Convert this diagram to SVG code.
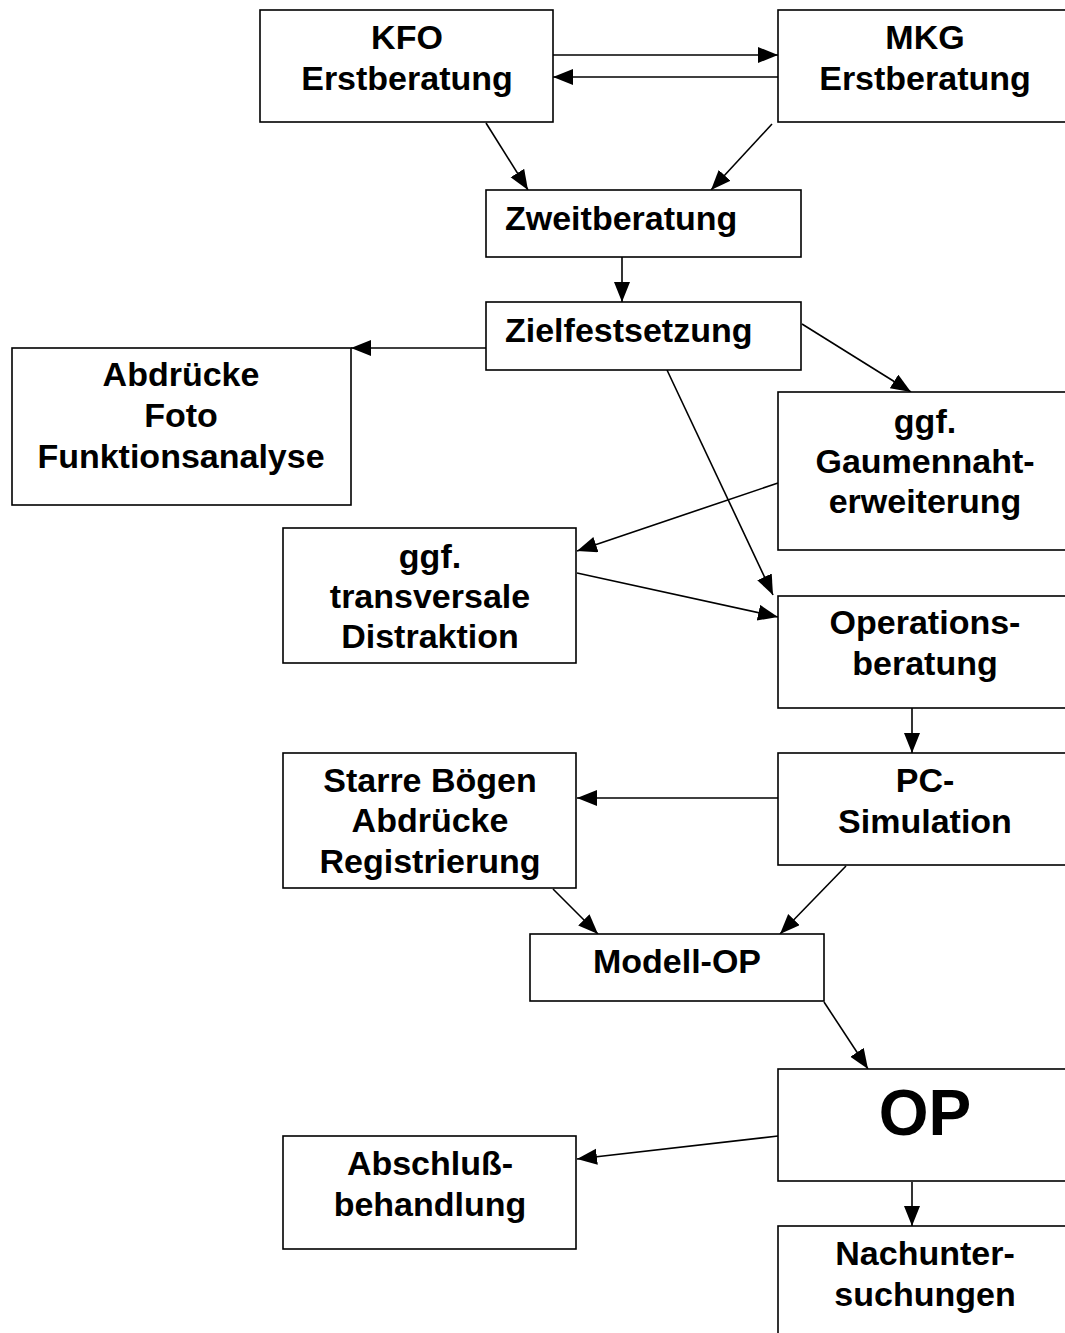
<svg xmlns="http://www.w3.org/2000/svg" width="1065" height="1333" viewBox="0 0 1065 1333">
<style>
.box{fill:#fff;stroke:#000;stroke-width:1.6}
.t{font-family:"Liberation Sans",Arial,sans-serif;font-weight:bold;font-size:34px;fill:#000;text-anchor:middle}
.ts{font-family:"Liberation Sans",Arial,sans-serif;font-weight:bold;font-size:34px;fill:#000}
.big{font-family:"Liberation Sans",Arial,sans-serif;font-weight:bold;font-size:64px;fill:#000;text-anchor:middle}
.c{stroke:#000;stroke-width:1.6;fill:none;marker-end:url(#ah)}
</style>
<defs>
<marker id="ah" markerUnits="userSpaceOnUse" markerWidth="22" markerHeight="18" refX="20" refY="8" orient="auto">
<path d="M0,0 L20,8 L0,16 Z" fill="#000"/>
</marker>
</defs>
<rect width="1065" height="1333" fill="#fff"/>
<g id="connectors">
<line class="c" x1="553" y1="55" x2="778" y2="55"/>
<line class="c" x1="778" y1="77" x2="553" y2="77"/>
<line class="c" x1="486" y1="123" x2="528" y2="190"/>
<line class="c" x1="772" y1="124" x2="711" y2="190"/>
<line class="c" x1="622" y1="257" x2="622" y2="302"/>
<line class="c" x1="486" y1="348" x2="351" y2="348"/>
<line class="c" x1="802" y1="324" x2="911" y2="392"/>
<line class="c" x1="667" y1="370" x2="773" y2="595"/>
<line class="c" x1="778" y1="483" x2="577" y2="551"/>
<line class="c" x1="577" y1="573" x2="778" y2="617"/>
<line class="c" x1="912" y1="708" x2="912" y2="753"/>
<line class="c" x1="778" y1="798" x2="577" y2="798"/>
<line class="c" x1="553" y1="889" x2="598" y2="934"/>
<line class="c" x1="846" y1="866" x2="780" y2="934"/>
<line class="c" x1="824" y1="1002" x2="868" y2="1069"/>
<line class="c" x1="778" y1="1136" x2="577" y2="1159"/>
<line class="c" x1="912" y1="1182" x2="912" y2="1226"/>
</g>
<g id="kfo"><rect class="box" x="260" y="10" width="293" height="112"/><text class="t" x="407" y="49">KFO</text><text class="t" x="407" y="90">Erstberatung</text></g>
<g id="mkg"><rect class="box" x="778" y="10" width="300" height="112"/><text class="t" x="925" y="49">MKG</text><text class="t" x="925" y="90">Erstberatung</text></g>
<g id="zweit"><rect class="box" x="486" y="190" width="315" height="67"/><text class="ts" x="505" y="230">Zweitberatung</text></g>
<g id="ziel"><rect class="box" x="486" y="302" width="315" height="68"/><text class="ts" x="505" y="342">Zielfestsetzung</text></g>
<g id="abdruecke"><rect class="box" x="12" y="348" width="339" height="157"/><text class="t" x="181" y="386">Abdrücke</text><text class="t" x="181" y="427">Foto</text><text class="t" x="181" y="468">Funktionsanalyse</text></g>
<g id="gaumen"><rect class="box" x="778" y="392" width="300" height="158"/><text class="t" x="925" y="433">ggf.</text><text class="t" x="925" y="473">Gaumennaht-</text><text class="t" x="925" y="513">erweiterung</text></g>
<g id="transv"><rect class="box" x="283" y="528" width="293" height="135"/><text class="t" x="430" y="568">ggf.</text><text class="t" x="430" y="608">transversale</text><text class="t" x="430" y="648">Distraktion</text></g>
<g id="opberatung"><rect class="box" x="778" y="596" width="300" height="112"/><text class="t" x="925" y="634">Operations-</text><text class="t" x="925" y="675">beratung</text></g>
<g id="pcsim"><rect class="box" x="778" y="753" width="300" height="112"/><text class="t" x="925" y="792">PC-</text><text class="t" x="925" y="833">Simulation</text></g>
<g id="starre"><rect class="box" x="283" y="753" width="293" height="135"/><text class="t" x="430" y="792">Starre Bögen</text><text class="t" x="430" y="832">Abdrücke</text><text class="t" x="430" y="873">Registrierung</text></g>
<g id="modell"><rect class="box" x="530" y="934" width="294" height="67"/><text class="t" x="677" y="973">Modell-OP</text></g>
<g id="op"><rect class="box" x="778" y="1069" width="300" height="112"/><text class="big" x="925" y="1135">OP</text></g>
<g id="abschluss"><rect class="box" x="283" y="1136" width="293" height="113"/><text class="t" x="430" y="1175">Abschluß-</text><text class="t" x="430" y="1216">behandlung</text></g>
<g id="nach"><rect class="box" x="778" y="1226" width="300" height="130"/><text class="t" x="925" y="1265">Nachunter-</text><text class="t" x="925" y="1306">suchungen</text></g>
</svg>
